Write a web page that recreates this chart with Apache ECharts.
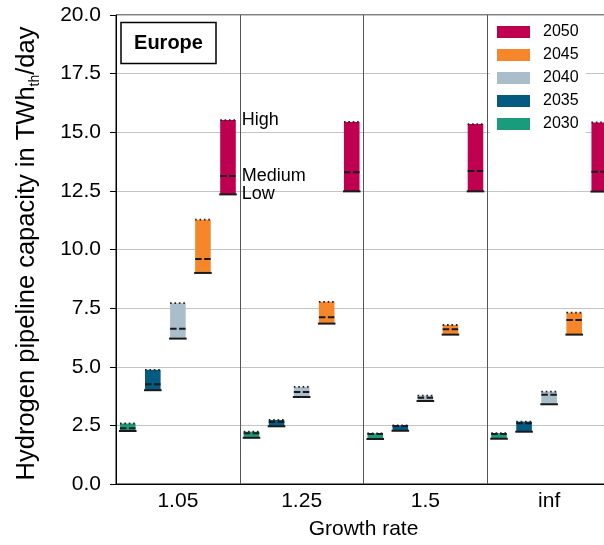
<!DOCTYPE html>
<html>
<head>
<meta charset="utf-8">
<script src="https://cdn.jsdelivr.net/npm/echarts@6/dist/echarts.min.js"></script>
<style>
  html, body { margin: 0; padding: 0; background: #fff; }
  #chart { width: 604px; height: 545px; }
</style>
</head>
<body>
<div id="chart"></div>
<script>
// Categories and series
const growthRates = ['1.05', '1.25', '1.5', 'inf'];
const years = ['2030', '2035', '2040', '2045', '2050'];
const legendOrder = ['2050', '2045', '2040', '2035', '2030'];
const yearColors = ['#1a9b7b', '#045a80', '#a9bdcb', '#f5862a', '#bf0050'];

// Pipeline capacity [low, medium, high] in TWh_th/day, one triple per growth rate
const cap2030 = [[2.26, 2.38, 2.58], [1.97, 2.16, 2.23], [1.92, 2.13, 2.16], [1.93, 2.13, 2.17]];
const cap2035 = [[4.00, 4.25, 4.87], [2.46, 2.64, 2.73], [2.27, 2.47, 2.50], [2.23, 2.59, 2.66]];
const cap2040 = [[6.20, 6.62, 7.71], [3.71, 3.92, 4.14], [3.54, 3.68, 3.77], [3.40, 3.81, 3.94]];
const cap2045 = [[9.00, 9.59, 11.27], [6.84, 7.11, 7.77], [6.37, 6.60, 6.78], [6.37, 6.99, 7.31]];
const cap2050 = [[12.35, 13.13, 15.52], [12.48, 13.29, 15.44], [12.48, 13.35, 15.35], [12.47, 13.32, 15.42]];
const capByYear = [cap2030, cap2035, cap2040, cap2045, cap2050];

// Scenario names written beside the first 2050 range
const scenarioNames = ['Low', 'Medium', 'High'];

// Value axis
const yMin = 0, yMax = 20, yStep = 2.5;

const FONT = '"Liberation Sans", Arial, Helvetica, sans-serif';

function makeRenderer(seriesIdx) {
  return function (params, api) {
    const cat = api.value(0);
    const low = api.value(1), med = api.value(2), high = api.value(3);
    const band = api.size([1, 0])[0];
    const xc = api.coord([cat, 0])[0] + (seriesIdx - 2) * band * 0.2025;
    const w = band * 0.126;
    const x0 = xc - w / 2, x1 = xc + w / 2;
    const yL = api.coord([cat, low])[1];
    const yM = api.coord([cat, med])[1];
    const yH = api.coord([cat, high])[1];
    const color = yearColors[seriesIdx];
    const children = [
      { type: 'rect', shape: { x: x0, y: yH, width: w, height: yL - yH }, style: { fill: color } },
      { type: 'line', shape: { x1: x0 - 1, y1: yL, x2: x1 + 1, y2: yL }, style: { stroke: '#1a1a1a', lineWidth: 2 } },
      { type: 'line', shape: { x1: x0, y1: yM, x2: x1, y2: yM }, style: { stroke: '#1a1a1a', lineWidth: 2, lineDash: [6.5, 2.5] } },
      { type: 'line', shape: { x1: x0, y1: yH, x2: x1, y2: yH }, style: { stroke: '#222', lineWidth: 1.8, lineDash: [1.6, 2.8] } }
    ];
    if (seriesIdx === years.length - 1 && params.dataIndex === 0) {
      [yL, yM, yH].forEach(function (yy, k) {
        children.push({
          type: 'text',
          style: {
            text: scenarioNames[k], x: x1 + 6, y: yy,
            fill: '#000', font: '18px ' + FONT,
            align: 'left', verticalAlign: 'middle'
          }
        });
      });
    }
    return { type: 'group', children: children };
  };
}

const series = years.map(function (yr, si) {
  return {
    name: yr,
    type: 'custom',
    renderItem: makeRenderer(si),
    itemStyle: { color: yearColors[si] },
    encode: { x: 0, y: [1, 2, 3] },
    data: capByYear[si].map(function (v, i) { return [i, v[0], v[1], v[2]]; }),
    z: 3
  };
});

const chart = echarts.init(document.getElementById('chart'), null, { renderer: 'canvas' });
chart.setOption({
  animation: false,
  backgroundColor: '#fff',
  color: yearColors,
  textStyle: { fontFamily: FONT },
  grid: {
    left: 116, top: 15, width: 495, height: 469,
    containLabel: false,
    outerBoundsMode: 'none',
    show: true, borderColor: '#000', borderWidth: 1, backgroundColor: 'transparent'
  },
  legend: {
    data: legendOrder,
    orient: 'vertical',
    left: 490, top: 17,
    padding: [7, 7, 7, 7],
    backgroundColor: '#fff',
    itemWidth: 33, itemHeight: 12, itemGap: 7,
    icon: 'rect',
    textStyle: { fontSize: 16, color: '#000', fontFamily: FONT, padding: [0, 0, 0, 8] }
  },
  graphic: [
    {
      type: 'rect', shape: { x: 121, y: 22.5, width: 95, height: 41 },
      style: { fill: '#fff', stroke: '#000', lineWidth: 1.5 }, z: 10
    },
    {
      type: 'text', x: 168.5, y: 43,
      style: { text: 'Europe', font: 'bold 20px ' + FONT, fill: '#000', align: 'center', verticalAlign: 'middle' },
      z: 11
    }
  ],
  xAxis: {
    type: 'category',
    data: growthRates,
    boundaryGap: true,
    name: 'Growth rate',
    nameLocation: 'middle',
    nameGap: 35,
    nameTextStyle: { fontSize: 21, color: '#000', fontFamily: FONT },
    axisLine: { show: true, lineStyle: { color: '#000', width: 1 } },
    axisTick: { show: false },
    axisLabel: { fontSize: 21, color: '#000', margin: 7, fontFamily: FONT },
    splitLine: { show: true, interval: 0, lineStyle: { color: '#555', width: 1 } }
  },
  yAxis: {
    type: 'value',
    min: yMin, max: yMax, interval: yStep,
    name: '{a|Hydrogen pipeline capacity in TWh}{b|th}{a|/day}',
    nameLocation: 'middle',
    nameGap: 74,
    nameTextStyle: {
      color: '#000', fontFamily: FONT,
      padding: [0, 8, 0, 0],
      rich: {
        a: { fontSize: 25.5, fontFamily: FONT, color: '#000', lineHeight: 30 },
        b: { fontSize: 14, fontFamily: FONT, color: '#000', lineHeight: 14, verticalAlign: 'bottom' }
      }
    },
    axisLine: { show: true, lineStyle: { color: '#000', width: 1 } },
    axisTick: { show: true, inside: false, length: 6, lineStyle: { color: '#000' } },
    axisLabel: {
      fontSize: 21, color: '#000', margin: 15, fontFamily: FONT,
      formatter: function (v) { return v.toFixed(1); }
    },
    splitLine: { show: true, lineStyle: { color: '#c4c4c4', width: 1 } }
  },
  series: series
});
</script>
</body>
</html>
